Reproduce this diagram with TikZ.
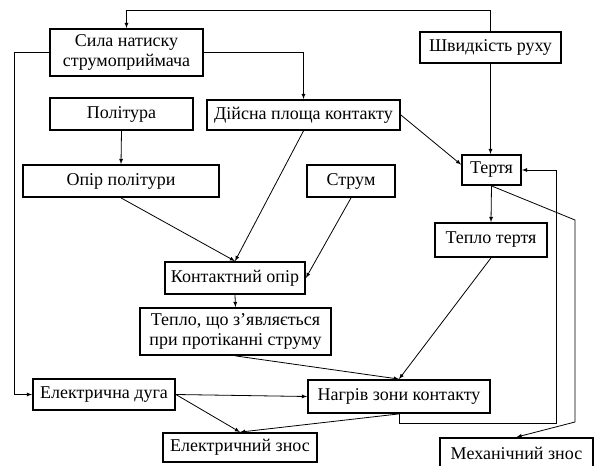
\documentclass[tikz,border=0pt]{standalone}
\usepackage{fontspec}
\setmainfont{Liberation Serif}
\usepackage{tikz}
\usetikzlibrary{arrows, positioning, calc}

\begin{document}
\begin{tikzpicture}[x=1pt, y=-1pt, >=latex, font=\fontsize{18}{20.5}\selectfont]
	\tikzstyle{blok}=[rectangle, draw=black, line width=1.8pt, inner sep=1pt, align=center, minimum height=31pt]
	\tikzstyle{zv}=[->, line width=0.8pt]
	\useasboundingbox (0,0) rectangle (595,466);

	\node (sila) at (126.5,52.5) [blok, minimum width=153pt, minimum height=47pt]{Сила натиску\\струмоприймача};
	\node (shvyd) at (490.5,47.5) [blok, minimum width=141pt]{Швидкість руху};
	\node (polit) at (121.5,114) [blok, minimum width=143pt, minimum height=32pt]{Політура};
	\node (diysna) at (303.5,115) [blok, minimum width=193pt, minimum height=30pt]{Дійсна площа контакту};
	\node (tertya) at (491.5,170) [blok, minimum width=59pt, minimum height=30pt]{Тертя};
	\node (opir) at (121,181) [blok, minimum width=196pt, minimum height=32pt]{Опір політури};
	\node (strum) at (351,181) [blok, minimum width=88pt, minimum height=32pt]{Струм};
	\node (teplot) at (491,240) [blok, minimum width=112pt, minimum height=34pt]{Тепло тертя};
	\node (kontakt) at (235,278) [blok, minimum width=140pt, minimum height=32pt]{Контактний опір};
	\node (teplo) at (235.5,331.5) [blok, minimum width=191pt, minimum height=47pt]{Тепло, що з’являється\\при протіканні струму};
	\node (duga) at (104,394.5) [blok, minimum width=142pt]{Електрична дуга};
	\node (nagriv) at (399,396.5) [blok, minimum width=182pt, minimum height=33pt]{Нагрів зони контакту};
	\node (eznos) at (240,447.5) [blok, minimum width=154pt, minimum height=29pt]{Електричний знос};
	\node (mznos) at (516.5,453.5) [blok, minimum width=153pt]{Механічний знос};

	\draw[zv] (shvyd.north) -- ++(0,-21) -| (sila.north);
	\draw[zv] (sila.east) -| (diysna.north);
	\draw[zv] (sila.west) -- ++(-35,0) |- (duga.west);
	\draw[zv] (shvyd.south) -- (shvyd.south |- tertya.north);
	\draw[zv] (diysna.east) -- (tertya.170);
	\draw[zv] (diysna.south) -- (kontakt.north);
	\draw[zv] (polit.south) -- (opir.north);
	\draw[zv] (opir.south) -- (kontakt.north);
	\draw[zv] (strum.south) -- (kontakt.east);
	\draw[zv] (kontakt.south) -- (teplo.north);
	\draw[zv] (tertya.south) -- (teplot.north);
	\draw[zv] (tertya.south) -- (575,220) -- (575,422) -- (mznos.north);
	\draw[zv] (nagriv.south) -- ++(0,9) -| (556,170) -- (tertya.east);
	\draw[zv] (teplot.south) -- (nagriv.north);
	\draw[zv] (teplo.south) -- (nagriv.north);
	\draw[zv] (duga.east) -- (nagriv.west);
	\draw[zv] (duga.east) -- (eznos.north);
	\draw[zv] (nagriv.south) -- (eznos.north);
\end{tikzpicture}
\end{document}
